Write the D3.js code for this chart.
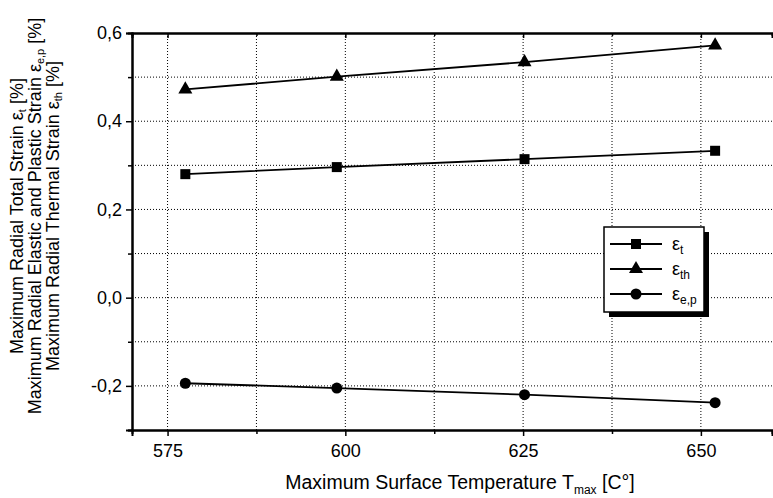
<!DOCTYPE html>
<html>
<head>
<meta charset="utf-8">
<script src="https://cdn.jsdelivr.net/npm/d3@7"></script>
<style>
  body { margin: 0; background: #fff; }
  text { font-family: "Liberation Sans", Arial, sans-serif; fill: #000; }
</style>
</head>
<body>
<div id="chart"></div>
<script>
// values
var temps = [577.5, 598.8, 625.2, 652.0];
var totalStrain = [0.280, 0.296, 0.314, 0.333];
var thermalStrain = [0.472, 0.501, 0.534, 0.572];
var elastPlastStrain = [-0.194, -0.205, -0.220, -0.238];

var xTicks = [575, 600, 625, 650];
var xMinor = [587.5, 612.5, 637.5];
var yTicks = [-0.2, 0.0, 0.2, 0.4, 0.6];
var yMinor = [-0.3, -0.1, 0.1, 0.3, 0.5];

var series = [
    {name: "t", sub: "t", values: totalStrain, marker: "square"},
    {name: "th", sub: "th", values: thermalStrain, marker: "triangle"},
    {name: "ep", sub: "e,p", values: elastPlastStrain, marker: "circle"}
];

var width = 773, height = 498;
var margin = {top: 33, right: 1, bottom: 68, left: 132};

var svg = d3.select("#chart")
    .append("svg")
    .attr("width", width)
    .attr("height", height);

var x = d3.scaleLinear().domain([570, 660]).range([margin.left, width - margin.right]);
var y = d3.scaleLinear().domain([-0.3, 0.6]).range([height - margin.bottom, margin.top]);

var locale = d3.formatLocale({decimal: ",", thousands: ".", grouping: [3], currency: ["", ""], minus: "-"});
var yFmt = locale.format(".1f");

// dotted grid
var gridX = xTicks.concat(xMinor);
svg.append("g").selectAll("line")
    .data(gridX)
    .enter().append("line")
    .attr("x1", d => x(d)).attr("x2", d => x(d))
    .attr("y1", y(0.6)).attr("y2", y(-0.3))
    .attr("stroke", "#000")
    .attr("stroke-width", 1)
    .attr("stroke-dasharray", "1,2");

var gridY = [-0.2, -0.1, 0.0, 0.1, 0.2, 0.3, 0.4, 0.5];
svg.append("g").selectAll("line")
    .data(gridY)
    .enter().append("line")
    .attr("x1", x(570)).attr("x2", x(660))
    .attr("y1", d => y(d)).attr("y2", d => y(d))
    .attr("stroke", "#000")
    .attr("stroke-width", 1)
    .attr("stroke-dasharray", "1,2");

// axes
svg.append("g")
    .attr("transform", "translate(0," + y(-0.3) + ")")
    .call(d3.axisBottom(x).tickValues(xTicks).tickSize(6).tickPadding(8).tickFormat(d3.format("d")));
svg.append("g")
    .attr("transform", "translate(0," + y(-0.3) + ")")
    .call(d3.axisBottom(x).tickValues(xMinor).tickSize(4).tickFormat(""));

svg.append("g")
    .attr("transform", "translate(0," + y(0.6) + ")")
    .call(d3.axisTop(x).tickValues(xTicks).tickSize(-5).tickFormat(""));
svg.append("g")
    .attr("transform", "translate(0," + y(0.6) + ")")
    .call(d3.axisTop(x).tickValues(xMinor).tickSize(-3).tickFormat(""));

svg.append("g")
    .attr("transform", "translate(" + x(570) + ",0)")
    .call(d3.axisLeft(y).tickValues(yTicks).tickSize(6).tickPadding(4).tickFormat(yFmt));
svg.append("g")
    .attr("transform", "translate(" + x(570) + ",0)")
    .call(d3.axisLeft(y).tickValues(yMinor).tickSize(4).tickFormat(""));

svg.selectAll(".domain").attr("stroke", "#000").attr("stroke-width", 2);
svg.selectAll(".tick line").attr("stroke", "#000").attr("stroke-width", 1.5);
svg.selectAll(".tick text").style("font-size", "18px").attr("fill", "#000");

// data lines and markers
var line = d3.line()
    .x((d, i) => x(temps[i]))
    .y(d => y(d));

function drawMarker(g, type, cx, cy) {
    if (type === "square") {
        g.append("rect").attr("x", cx - 5).attr("y", cy - 5)
            .attr("width", 10).attr("height", 10).attr("fill", "#000");
    } else if (type === "triangle") {
        g.append("path")
            .attr("d", d3.symbol().type(d3.symbolTriangle).size(85)())
            .attr("transform", "translate(" + cx + "," + cy + ")")
            .attr("fill", "#000");
    } else {
        g.append("circle").attr("cx", cx).attr("cy", cy).attr("r", 5.5).attr("fill", "#000");
    }
}

series.forEach(function (s) {
    svg.append("path")
        .datum(s.values)
        .attr("d", line)
        .attr("fill", "none")
        .attr("stroke", "#000")
        .attr("stroke-width", 1.8);
    var g = svg.append("g");
    s.values.forEach(function (v, i) {
        drawMarker(g, s.marker, x(temps[i]), y(v));
    });
});

// legend
var lg = svg.append("g").attr("transform", "translate(604,227)");
lg.append("rect").attr("x", 5).attr("y", 5).attr("width", 100).attr("height", 85).attr("fill", "#000");
lg.append("rect").attr("width", 100).attr("height", 85)
    .attr("fill", "#fff").attr("stroke", "#000").attr("stroke-width", 1.5);

series.forEach(function (s, i) {
    var yy = 17 + i * 25;
    lg.append("line")
        .attr("x1", 6).attr("x2", 58)
        .attr("y1", yy).attr("y2", yy)
        .attr("stroke", "#000").attr("stroke-width", 1.8);
    drawMarker(lg, s.marker, 32, yy);
    var t = lg.append("text")
        .attr("x", 68).attr("y", yy + 6)
        .style("font-size", "18px");
    t.append("tspan").text("ε");
    t.append("tspan").attr("dy", 4).style("font-size", "12px").text(s.sub);
});

// axis titles
var xt = svg.append("text")
    .attr("x", (x(570) + x(660)) / 2 + 8)
    .attr("y", 489)
    .attr("text-anchor", "middle")
    .style("font-size", "19.5px");
xt.append("tspan").text("Maximum Surface Temperature T");
xt.append("tspan").attr("dy", 5).style("font-size", "12px").text("max");
xt.append("tspan").attr("dy", -5).text(" [C°]");

var yTitles = [
    ["Maximum Radial Total Strain ε", "t", " [%]"],
    ["Maximum Radial Elastic and Plastic Strain ε", "e,p", " [%]"],
    ["Maximum Radial Thermal Strain ε", "th", " [%]"]
];
var cy = 216;
yTitles.forEach(function (parts, i) {
    var tx = 23 + i * 18;
    var t = svg.append("text")
        .attr("transform", "translate(" + tx + "," + cy + ") rotate(-90)")
        .attr("text-anchor", "middle")
        .style("font-size", "18px");
    t.append("tspan").text(parts[0]);
    t.append("tspan").attr("dy", 3).style("font-size", "11px").text(parts[1]);
    t.append("tspan").attr("dy", -3).text(parts[2]);
});
</script>
</body>
</html>
